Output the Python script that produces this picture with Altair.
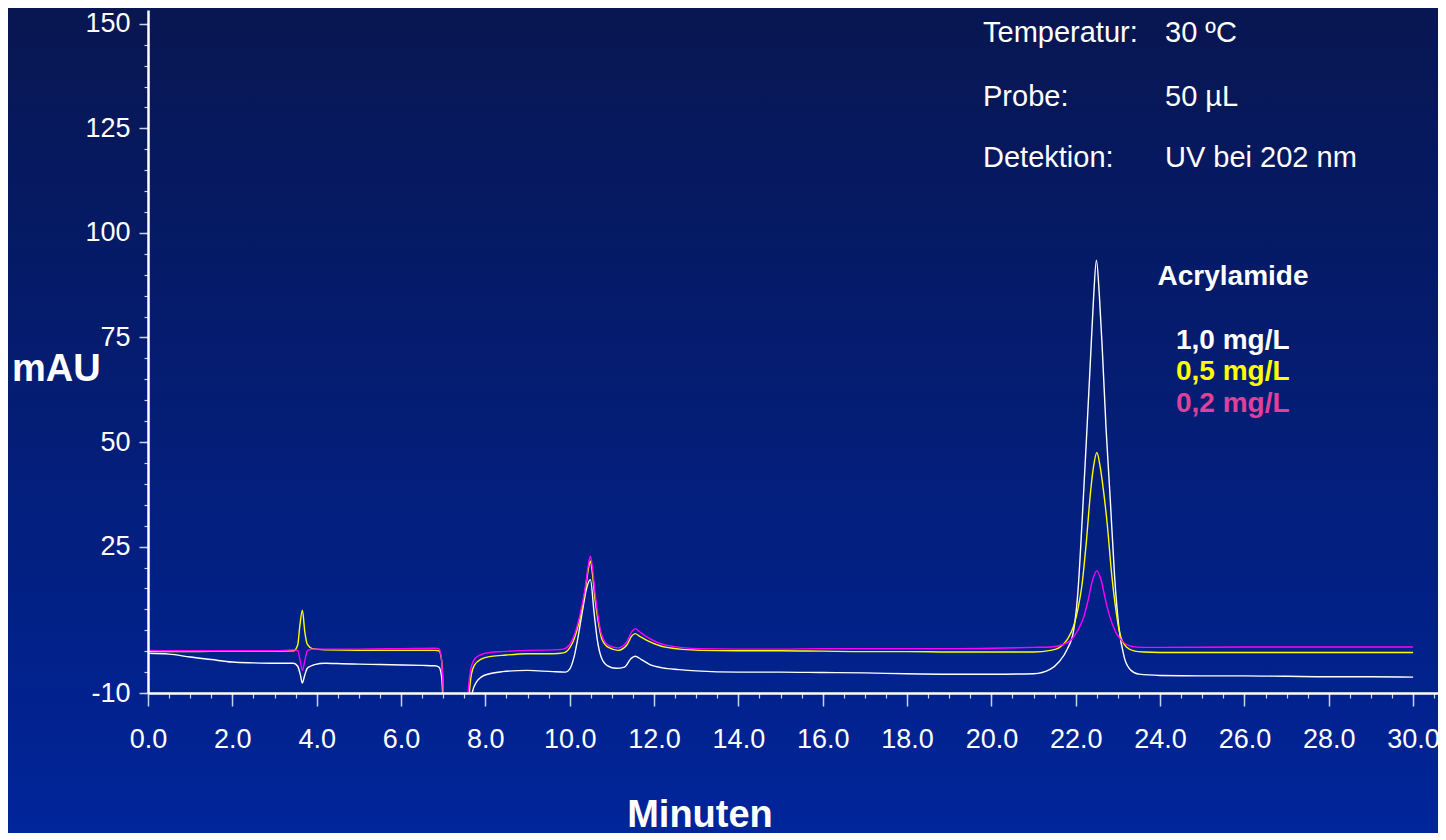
import altair as alt
import pandas as pd

# ---- data ----
t_white = [0.0, 0.5, 1.0, 1.5, 2.0, 2.5, 3.0, 3.45, 3.55, 3.61, 3.66, 3.71, 3.77, 3.85, 3.95, 4.2, 4.6, 5.0, 5.5, 6.0, 6.5, 6.8, 6.9, 6.96, 7.01, 7.08,
           7.55, 7.63, 7.7, 7.8, 7.9, 8.1, 8.4, 9.0, 9.6, 9.9, 10.0, 10.1, 10.2, 10.3, 10.4, 10.49, 10.58, 10.65, 10.75, 10.9, 11.1, 11.3, 11.45, 11.55,
           11.7, 11.9, 12.2, 12.6, 13.0, 14, 15, 16, 17, 18, 19, 20, 21.0, 21.4, 21.6, 21.8, 21.95, 22.05, 22.15, 22.25, 22.35, 22.42, 22.49, 22.56,
           22.63, 22.72, 22.82, 22.92, 23.02, 23.15, 23.3, 23.5, 24, 25, 26, 27, 28, 29, 30]
v_white = [-0.5, -0.7, -1.4, -2.0, -2.6, -2.8, -2.9, -2.9, -3.6, -5.5, -7.6, -6.0, -4.2, -3.6, -3.2, -2.9, -3.0, -3.1, -3.2, -3.3, -3.4, -3.5, -3.8, -6.0, -15, -40,
           -40, -14, -9.5, -7.2, -6.2, -5.4, -4.9, -4.6, -4.9, -5.0, -4.3, -1.5, 3.5, 9.5, 15.0, 17.1, 9.0, 3.0, -1.5, -3.5, -4.1, -3.8, -1.8, -1.2,
           -2.0, -3.2, -4.0, -4.4, -4.7, -5.0, -5.0, -5.1, -5.2, -5.4, -5.5, -5.5, -5.4, -4.3, -2.6, 0.5, 5, 14, 31, 50, 70, 84, 93.5, 85,
           72, 53, 36, 18, 6, -1.5, -4.5, -5.5, -5.8, -5.9, -5.9, -6.0, -6.1, -6.1, -6.2]

t_yellow = [0.0, 1.0, 2.0, 3.0, 3.45, 3.55, 3.6, 3.66, 3.72, 3.78, 3.9, 4.2, 5.0, 6.0, 6.8, 6.9, 6.96, 7.01, 7.08,
            7.55, 7.61, 7.67, 7.75, 7.9, 8.1, 8.4, 9.0, 9.6, 9.85, 10.0, 10.1, 10.25, 10.37, 10.44, 10.49, 10.54, 10.6, 10.67, 10.76, 10.92,
            11.15, 11.35, 11.47, 11.55, 11.65, 11.83, 12.3, 13.1, 14, 15, 16, 17, 18, 19, 20, 21.0, 21.4, 21.6, 21.8, 21.95, 22.05, 22.15,
            22.25, 22.35, 22.42, 22.5, 22.58, 22.65, 22.75, 22.85, 22.95, 23.05, 23.2, 23.4, 23.6, 24, 26, 28, 30]
v_yellow = [0.0, -0.1, 0.0, 0.0, 0.1, 1.5, 6.0, 9.8, 4.5, 1.6, 0.6, 0.3, 0.2, 0.2, 0.2, 0.1, -2, -12, -40,
            -40, -12, -5.5, -3.2, -1.9, -1.3, -1.0, -0.6, -0.6, -0.4, 0.8, 2.8, 8.2, 14.6, 19.5, 21.6, 18.5, 12.5, 7.5, 3.0, 0.9,
            0.2, 1.4, 3.6, 4.2, 3.6, 2.6, 0.9, 0.2, 0.1, 0.1, 0.0, -0.1, -0.1, -0.2, -0.2, -0.2, 0.2, 0.8, 2.8, 6, 10, 16,
            26, 38, 44, 47.5, 44, 39, 30, 18.6, 10, 4, 1.0, 0.0, -0.2, -0.3, -0.3, -0.3, -0.3]

t_magenta = [0.0, 1.0, 2.0, 3.0, 3.45, 3.55, 3.6, 3.66, 3.72, 3.78, 3.9, 4.2, 5.0, 6.0, 6.8, 6.9, 6.96, 7.01, 7.08,
             7.53, 7.58, 7.65, 7.75, 7.9, 8.1, 8.4, 9.0, 9.6, 9.85, 10.0, 10.09, 10.25, 10.37, 10.44, 10.49, 10.54, 10.6, 10.67, 10.76, 10.92,
             11.15, 11.35, 11.47, 11.55, 11.65, 11.83, 12.3, 13.1, 14, 15, 16, 17, 18, 19, 20, 21.0, 21.4, 21.7, 21.9, 22.05, 22.2, 22.3,
             22.4, 22.5, 22.6, 22.7, 22.8, 22.95, 23.1, 23.3, 23.6, 24, 26, 28, 30]
v_magenta = [0.2, 0.1, 0.1, 0.1, 0.3, 0.2, -1.8, -4.6, -2.2, 0.1, 0.5, 0.5, 0.5, 0.6, 0.7, 0.6, -2, -12, -40,
             -40, -12, -4.5, -1.8, -0.8, -0.3, -0.1, 0.2, 0.3, 0.5, 1.6, 3.4, 9.0, 15.4, 20.5, 22.7, 20, 14, 8.5, 3.8, 1.4,
             0.8, 2.2, 4.6, 5.4, 4.7, 3.4, 1.4, 0.6, 0.5, 0.5, 0.6, 0.6, 0.6, 0.6, 0.7, 0.9, 1.0, 1.6, 2.8, 5, 8.5, 12.5,
             17, 19.2, 17, 12.5, 8.5, 4.5, 2.4, 1.2, 0.9, 0.9, 1.0, 1.0, 1.0]

series_names = ["1,0 mg/L", "0,5 mg/L", "0,2 mg/L"]
line_colors = ["#ffffff", "#ffff00", "#ff00ff"]
label_colors = ["#ffffff", "#ffff00", "#e0409a"]

x_major = [0, 2, 4, 6, 8, 10, 12, 14, 16, 18, 20, 22, 24, 26, 28, 30]
x_minor = [i * 0.5 for i in range(0, 62)]
y_major = [-10, 25, 50, 75, 100, 125, 150]
y_minor = list(range(-10, 155, 5))

info_left = ["Temperatur:", "Probe:", "Detektion:"]
info_right = ["30 ºC", "50 µL", "UV bei 202 nm"]

X_DOM = [0, 30.59]
Y_DOM = [-10, 153.3]
W, H = 1290, 683

frames = []
for name, ts, vs in zip(series_names, [t_white, t_yellow, t_magenta], [v_white, v_yellow, v_magenta]):
    frames.append(pd.DataFrame({"t": ts, "v": vs, "s": name}))
df = pd.concat(frames, ignore_index=True)

xs = alt.Scale(domain=X_DOM, nice=False, zero=False)
ys = alt.Scale(domain=Y_DOM, nice=False, zero=False)

FONT = "Liberation Sans"

bg = alt.Chart(pd.DataFrame({"a": [0]})).mark_rect(
    clip=False,
    color=alt.Gradient(gradient="linear",
                       stops=[alt.GradientStop(color="#081650", offset=0),
                              alt.GradientStop(color="#00259c", offset=1)],
                       x1=0, x2=0, y1=0, y2=1),
).encode(x=alt.value(-150), x2=alt.value(W + 10), y=alt.value(-12), y2=alt.value(H + 160))

# minor tick axes (invisible marks)
minor = alt.Chart(df).mark_point(opacity=0).encode(
    x=alt.X("t:Q", scale=xs, axis=alt.Axis(values=x_minor, labels=False, domain=False, grid=False, zindex=2,
                                           tickSize=5, tickColor="#c8d2f0", tickWidth=1.2, title=None, orient="bottom")),
    y=alt.Y("v:Q", scale=ys, axis=alt.Axis(values=y_minor, labels=False, domain=False, grid=False, zindex=2,
                                           tickSize=4, tickColor="#c8d2f0", tickWidth=1.2, title=None, orient="left")),
)

lines = []
for i, (name, col) in enumerate(zip(series_names, line_colors)):
    if i == 0:
        enc_x = alt.X("t:Q", scale=xs, axis=alt.Axis(
            values=x_major, format=".1f", grid=False, title=None, orient="bottom", zindex=2,
            labelFont=FONT, labelFontSize=27, labelColor="white", labelPadding=20,
            tickSize=13, tickColor="#c8d2f0", tickWidth=1.5,
            domainColor="white", domainWidth=2.5, labelFlush=False, labelOverlap=False))
        enc_y = alt.Y("v:Q", scale=ys, axis=alt.Axis(
            values=y_major, labelExpr="'' + datum.value", grid=False, title=None, orient="left", zindex=2,
            labelFont=FONT, labelFontSize=27, labelColor="white", labelPadding=9,
            tickSize=9, tickColor="#c8d2f0", tickWidth=1.5,
            domainColor="white", domainWidth=2.5, labelOverlap=False))
    else:
        enc_x = alt.X("t:Q", scale=xs)
        enc_y = alt.Y("v:Q", scale=ys)
    lines.append(
        alt.Chart(df).transform_filter(alt.datum.s == name)
        .mark_line(clip=True, interpolate="monotone", strokeWidth=1.4, color=col)
        .encode(x=enc_x, y=enc_y)
    )

# annotation texts (pixel positions relative to plot origin)
ann = []
for i, (lt, rt) in enumerate(zip(info_left, info_right)):
    yy = [23, 87, 148][i]
    ann.append(alt.Chart(pd.DataFrame({"txt": [lt]})).mark_text(
        align="left", baseline="middle", font=FONT, fontSize=29, color="white"
    ).encode(text="txt:N", x=alt.value(835), y=alt.value(yy)))
    ann.append(alt.Chart(pd.DataFrame({"txt": [rt]})).mark_text(
        align="left", baseline="middle", font=FONT, fontSize=29, color="white"
    ).encode(text="txt:N", x=alt.value(1017), y=alt.value(yy)))

ann.append(alt.Chart(pd.DataFrame({"txt": ["Acrylamide"]})).mark_text(
    align="center", baseline="middle", font=FONT, fontWeight="bold", fontSize=28, color="white"
).encode(text="txt:N", x=alt.value(1085), y=alt.value(267)))

for i, (name, col) in enumerate(zip(series_names, label_colors)):
    ann.append(alt.Chart(pd.DataFrame({"txt": [name]})).mark_text(
        align="left", baseline="middle", font=FONT, fontWeight="bold", fontSize=28, color=col
    ).encode(text="txt:N", x=alt.value(1028), y=alt.value([331, 362, 394][i])))

ann.append(alt.Chart(pd.DataFrame({"txt": ["mAU"]})).mark_text(
    align="left", baseline="middle", font=FONT, fontWeight="bold", fontSize=38, color="white"
).encode(text="txt:N", x=alt.value(-136), y=alt.value(360)))

ann.append(alt.Chart(pd.DataFrame({"txt": ["Minuten"]})).mark_text(
    align="center", baseline="alphabetic", font=FONT, fontWeight="bold", fontSize=38, color="white"
).encode(text="txt:N", x=alt.value(552), y=alt.value(817)))

chart = alt.layer(bg, minor, *lines, *ann).resolve_axis(x="independent", y="independent").properties(
    width=W, height=H,
    padding={"left": 140, "top": 2, "right": 0, "bottom": 140},
    autosize=alt.AutoSizeParams(type="none"),
).configure_view(stroke=None).configure(background="#00249c")

chart.save("out.html", embed_options={"renderer": "svg", "actions": False})
